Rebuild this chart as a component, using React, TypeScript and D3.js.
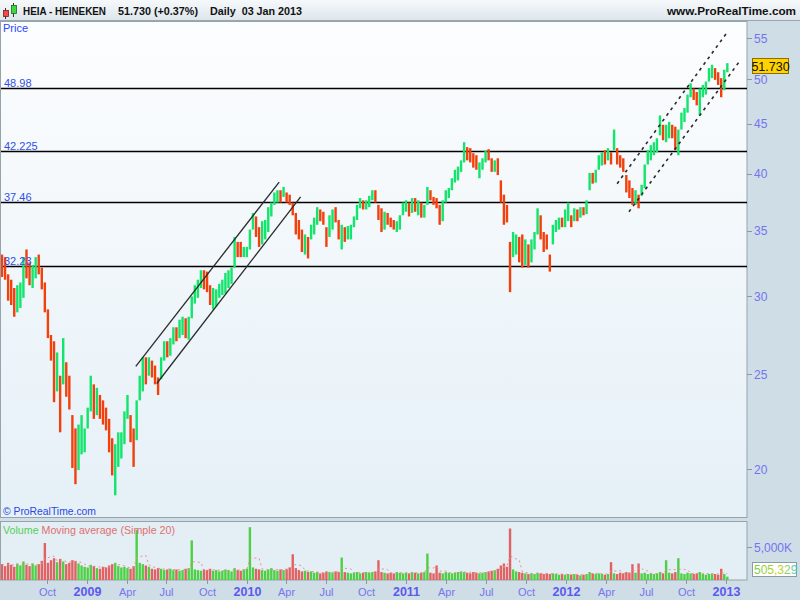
import React from 'react';
import * as d3 from 'd3';

// Weekly bars (week ending dates start at 2008-06-20, one per week)
const firstWeek = new Date(2008, 5, 20);
const firstOpen = 33.0;

const weekHigh = [
  33.1, 32.9, 31.6, 31.2, 30.6, 30.8, 31.0, 32.9, 33.5, 32.5,
  32.3, 32.9, 33.1, 32.1, 31.0, 29.1, 27.4, 27.0, 26.3, 24.9,
  27.2, 25.7, 24.9, 22.7, 22.0, 22.2, 22.7, 22.0, 23.1, 24.9,
  24.4, 24.2, 23.8, 23.5, 23.1, 22.5, 21.5, 21.2, 21.8, 21.8,
  22.9, 23.8, 22.7, 22.0, 23.5, 24.9, 26.0, 26.0, 26.0, 25.8,
  25.5, 24.8, 26.0, 27.0, 27.0, 27.2, 27.9, 27.9, 28.4, 28.6,
  28.5, 28.6, 30.0, 30.8, 31.2, 31.9, 31.9, 31.8, 30.8, 30.6,
  30.5, 30.9, 31.2, 31.7, 31.9, 32.1, 34.5, 34.1, 34.1, 33.7,
  33.7, 35.1, 36.5, 36.2, 35.3, 35.8, 35.9, 37.0, 37.4, 38.3,
  38.5, 38.5, 38.8, 38.3, 38.1, 37.4, 36.5, 35.9, 35.1, 34.7,
  34.5, 35.5, 36.1, 37.0, 36.8, 36.6, 35.3, 36.3, 36.8, 37.0,
  35.9, 35.5, 35.3, 35.4, 35.5, 36.2, 37.2, 37.8, 37.6, 37.6,
  38.0, 38.5, 38.5, 37.2, 36.9, 36.6, 36.5, 36.1, 35.9, 35.8,
  36.3, 37.4, 37.6, 37.4, 37.8, 37.8, 37.6, 37.4, 37.2, 38.8,
  38.5, 37.9, 37.8, 37.2, 37.6, 38.5, 38.7, 39.6, 40.4, 40.7,
  41.3, 43.1, 42.6, 42.5, 42.0, 41.8, 41.1, 41.5, 42.3, 42.4,
  41.5, 41.3, 41.5, 39.4, 38.1, 37.2, 34.1, 34.9, 34.7, 34.5,
  34.7, 34.3, 33.9, 34.3, 34.9, 36.9, 36.3, 34.9, 34.7, 33.1,
  35.5, 35.9, 36.1, 36.1, 36.8, 37.4, 36.3, 36.9, 36.8, 37.0,
  37.0, 37.6, 40.1, 40.1, 40.4, 41.8, 42.1, 42.3, 42.5, 42.1,
  44.4, 42.5, 41.8, 41.5, 39.9, 39.4, 38.7, 38.5, 38.1, 39.0,
  40.9, 42.3, 42.8, 43.1, 43.5, 45.9, 44.9, 44.9, 45.2, 44.9,
  44.7, 44.4, 46.2, 46.7, 48.2, 49.5, 48.9, 48.5, 48.9, 49.3,
  49.7, 51.3, 51.7, 51.3, 50.8, 50.1, 51.1, 51.9,
];

const weekLow = [
  31.4, 31.2, 29.7, 29.4, 28.6, 28.9, 29.2, 29.9, 31.3, 30.8,
  30.6, 31.3, 31.6, 30.5, 28.9, 27.2, 25.8, 23.4, 24.0, 21.8,
  24.4, 23.7, 23.0, 20.05, 19.3, 19.95, 20.7, 20.8, 22.0, 22.9,
  22.5, 22.7, 22.5, 22.2, 21.9, 20.8, 19.7, 18.8, 20.1, 20.5,
  21.2, 22.5, 21.3, 20.1, 21.4, 23.5, 24.0, 24.4, 24.9, 24.8,
  24.4, 23.8, 24.7, 25.8, 26.0, 26.1, 26.8, 27.0, 27.2, 27.4,
  27.2, 27.1, 28.5, 29.5, 29.9, 30.6, 30.5, 30.3, 29.4, 29.1,
  29.3, 29.9, 30.1, 30.2, 30.6, 30.9, 32.1, 32.9, 32.9, 32.9,
  32.9, 33.5, 35.1, 34.5, 33.7, 33.9, 34.3, 34.9, 36.2, 37.2,
  37.4, 37.4, 37.9, 37.4, 37.2, 36.3, 34.7, 34.3, 33.3, 33.1,
  32.8, 34.3, 34.7, 35.5, 35.8, 35.5, 33.7, 34.5, 35.1, 35.7,
  34.3, 33.5, 34.1, 34.3, 34.3, 35.3, 35.9, 36.9, 36.8, 36.8,
  37.0, 37.6, 37.4, 35.9, 34.9, 35.1, 35.5, 35.3, 35.1, 34.9,
  35.1, 36.3, 36.6, 36.2, 36.5, 36.6, 36.3, 36.1, 36.1, 37.2,
  37.6, 37.2, 36.9, 35.5, 35.8, 37.4, 37.8, 38.5, 39.2, 39.4,
  40.2, 41.1, 41.3, 41.1, 40.6, 40.4, 39.6, 40.4, 41.1, 41.3,
  40.2, 40.2, 39.9, 37.4, 35.5, 35.7, 30.3, 32.9, 33.1, 32.5,
  32.1, 32.3, 32.1, 32.5, 33.5, 34.7, 34.3, 33.3, 33.5, 31.8,
  33.9, 34.9, 35.1, 35.3, 35.3, 35.8, 35.3, 35.8, 35.8, 36.1,
  36.3, 36.4, 38.5, 39.1, 39.2, 40.4, 40.8, 40.9, 41.3, 40.9,
  42.3, 40.9, 40.6, 40.2, 38.3, 37.8, 37.2, 37.2, 36.9, 38.0,
  38.7, 40.9, 41.3, 41.8, 42.1, 43.8, 43.3, 43.1, 43.5, 43.5,
  42.3, 41.8, 44.4, 45.2, 46.2, 47.9, 47.6, 47.0, 45.9, 47.9,
  48.2, 49.7, 50.1, 49.9, 49.3, 47.9, 48.7, 50.8,
];

const weekClose = [
  32.5, 31.6, 30.3, 29.9, 29.4, 29.7, 30.5, 32.3, 32.1, 31.3,
  31.9, 32.5, 31.9, 30.8, 29.2, 27.7, 26.1, 24.7, 24.9, 22.4,
  25.5, 24.4, 23.2, 21.2, 20.7, 21.4, 21.4, 21.9, 22.9, 23.8,
  23.5, 23.8, 23.0, 22.7, 22.2, 21.2, 20.4, 20.7, 21.2, 21.4,
  22.5, 22.7, 21.7, 21.4, 23.2, 24.7, 25.5, 25.2, 25.7, 25.2,
  24.8, 24.7, 25.7, 26.5, 26.3, 27.1, 27.4, 27.2, 28.1, 28.1,
  27.7, 28.4, 29.7, 30.5, 30.8, 31.6, 31.2, 30.5, 29.7, 30.1,
  30.3, 30.6, 30.9, 31.3, 31.6, 31.9, 33.9, 33.5, 33.3, 33.5,
  33.6, 34.9, 35.8, 35.3, 34.5, 35.1, 35.5, 36.6, 37.2, 37.9,
  38.1, 37.8, 38.3, 37.9, 37.4, 36.6, 35.1, 34.7, 33.9, 34.3,
  33.5, 35.3, 35.8, 36.6, 36.3, 35.8, 34.7, 35.9, 36.3, 35.9,
  34.7, 34.9, 34.7, 35.1, 35.3, 35.9, 36.9, 37.4, 37.2, 37.4,
  37.8, 38.1, 37.6, 36.3, 35.5, 35.9, 35.8, 35.5, 35.3, 35.5,
  36.2, 37.0, 37.2, 36.8, 37.2, 36.9, 37.2, 36.6, 37.0, 38.3,
  37.8, 37.6, 37.2, 36.3, 37.4, 38.3, 38.5, 39.4, 39.9, 40.4,
  41.1, 42.3, 42.1, 41.5, 41.0, 40.6, 40.9, 41.1, 41.8, 41.5,
  40.9, 41.1, 40.2, 38.1, 36.8, 36.1, 33.1, 33.9, 34.3, 33.5,
  32.7, 33.7, 33.1, 33.9, 34.5, 35.5, 34.9, 34.3, 33.9, 32.5,
  34.9, 35.3, 35.8, 35.5, 36.3, 36.9, 35.9, 36.6, 36.3, 36.8,
  36.6, 37.4, 39.6, 39.4, 40.2, 41.3, 41.8, 41.3, 42.1, 41.5,
  42.8, 41.8, 41.3, 40.4, 39.0, 38.3, 37.6, 38.1, 37.6, 38.7,
  40.4, 41.8, 42.3, 42.8, 43.3, 45.4, 43.8, 44.4, 44.6, 43.8,
  42.8, 43.8, 45.6, 46.2, 47.8, 48.9, 48.2, 47.8, 48.5, 48.7,
  49.3, 50.8, 51.1, 50.1, 49.7, 49.3, 50.5, 51.73,
];

// Volume in thousands of shares
const weekVolume = [
  2400, 2100, 2600, 2300, 2000, 2500, 2200, 2800, 2300, 2100,
  2500, 2200, 2400, 2900, 5600, 2600, 3000, 3300, 2700, 3200,
  2800, 2400, 2600, 3000, 2900, 2500, 2200, 2000, 1900, 2300,
  2100, 1800, 1700, 2000, 1900, 2200, 2400, 2600, 2100, 1900,
  2000, 1800, 1700, 2100, 7600, 2600, 2400, 2200, 2000, 1700,
  1600, 1800, 1700, 1500, 1600, 1700, 1500, 1600, 1400, 1500,
  1700, 1800, 6000, 1600, 1500, 1400, 1600, 1500, 1700, 1400,
  1500, 1300, 1400, 1600, 1500, 1300, 1800, 1500, 1400, 1600,
  1700, 8000, 1900, 1700, 1600, 1500, 1400, 1600, 1800, 1500,
  1400, 1600, 1500, 1700, 1900, 3900, 1800, 1500, 1300, 1400,
  1200, 1300, 1100, 1200, 1000, 1100, 1300, 1200, 1100, 1300,
  1200, 3400, 1200, 1100, 1000, 1100, 1200, 1000, 1100, 1200,
  1100, 1200, 1300, 3000, 1200, 1100, 1000, 1100, 1000, 1200,
  1100, 1000, 1100, 1000, 1200, 1100, 1000, 1100, 1200, 4000,
  1100, 1000, 2200, 1100, 1000, 1200, 1100, 1000, 1100, 1200,
  1300, 1200, 1100, 1000, 1200, 1100, 1000, 1100, 1200, 1300,
  1400, 1500, 1700, 2200, 2500, 2000, 7800, 1600, 1300, 1200,
  1100, 1000, 900, 1000, 900, 1100, 1000, 900, 1000, 900,
  1000, 900, 800, 900, 800, 900, 800, 900, 800, 700,
  800, 900, 1200, 1000, 900, 1000, 900, 800, 900, 2700,
  1000, 900, 1100, 1000, 1200, 1100, 2400, 1100, 2500, 1000,
  1100, 900, 1000, 900, 1000, 1200, 1000, 3000, 1100, 1000,
  1200, 3300, 1000, 900, 1100, 1000, 900, 1000, 1200, 900,
  800, 900, 1000, 900, 800, 1700, 900, 505,
];

const priceTicks = [20, 25, 30, 35, 40, 45, 50, 55];
const levelValues = [48.98, 42.225, 37.46, 32.23];
const levelLabels = ['48.98', '42.225', '37.46', '32.23'];
const volumeTicks = [5000];
const volumeTickLabels = ['5,000K'];

const solidChannel = [
  { from: { date: new Date(2009, 3, 22), price: 25.45 }, to: { date: new Date(2010, 2, 16), price: 39.25 } },
  { from: { date: new Date(2009, 5, 9), price: 24.45 }, to: { date: new Date(2010, 4, 4), price: 37.9 } },
];
const dashedChannel = [
  { from: { date: new Date(2012, 3, 27), price: 39.1 }, to: { date: new Date(2013, 0, 5), price: 55.9 } },
  { from: { date: new Date(2012, 4, 24), price: 36.6 }, to: { date: new Date(2013, 1, 2), price: 52.2 } },
];

const lastPriceLabel = '51.730';
const lastVolumeLabel = '505,329';

const FONT = 'Liberation Sans, Arial, Helvetica, sans-serif';
const UP = '#12e46c';
const DOWN = '#f2400c';
const VUP = '#4fcf45';
const VDOWN = '#e06262';

export default function App() {
  const plotRight = 747;
  const priceTop = 21;
  const priceBottom = 518;
  const volTop = 521;
  const volBottom = 580;

  const x = d3.scaleTime()
    .domain([new Date(2008, 5, 20), new Date(2013, 1, 18)])
    .range([2, plotRight]);
  const y = d3.scaleLog().domain([20, 50]).range([469, 79]);
  const yv = d3.scaleLinear().domain([0, 5000]).range([volBottom, 547]);

  const bars = weekClose.map((c, i) => {
    const open = i === 0 ? firstOpen : weekClose[i - 1];
    return {
      date: d3.timeDay.offset(firstWeek, 7 * i),
      high: weekHigh[i],
      low: weekLow[i],
      open,
      close: c,
      volume: weekVolume[i],
      up: c >= open,
    };
  });

  const ma = bars.map((b, i) => {
    const from = Math.max(0, i - 3);
    const slice = weekVolume.slice(from, i + 1);
    return { date: b.date, v: d3.mean(slice) as number };
  });
  const maLine = d3.line<{ date: Date; v: number }>()
    .x((d) => x(d.date))
    .y((d) => yv(d.v));

  const quarterTicks = d3.timeMonth.every(3)!.range(new Date(2008, 9, 1), new Date(2013, 1, 2));
  const monthFmt = d3.timeFormat('%b');

  const bw = 2.4;

  return (
    <div style={{ position: 'fixed', left: 0, top: 0, width: 800, height: 600 }}>
      <svg width={800} height={600} style={{ display: 'block' }} fontFamily={FONT}>
        <defs>
          <linearGradient id="hdr" x1="0" y1="0" x2="0" y2="1">
            <stop offset="0" stopColor="#f6f9fb" />
            <stop offset="1" stopColor="#dde6ec" />
          </linearGradient>
          <linearGradient id="pricebg" x1="0" y1="0" x2="0" y2="1">
            <stop offset="0" stopColor="#fcfdfe" />
            <stop offset="1" stopColor="#e5f0f7" />
          </linearGradient>
          <linearGradient id="voltext" x1="0" y1="0" x2="1" y2="0">
            <stop offset="0" stopColor="#6fd04a" />
            <stop offset="0.6" stopColor="#c6cf2a" />
            <stop offset="1" stopColor="#3fd0c8" />
          </linearGradient>
          <clipPath id="priceClip">
            <rect x={1} y={priceTop} width={plotRight - 1} height={priceBottom - priceTop} />
          </clipPath>
          <clipPath id="volClip">
            <rect x={1} y={volTop} width={plotRight - 1} height={volBottom - volTop} />
          </clipPath>
        </defs>

        {/* background */}
        <rect x={0} y={0} width={800} height={600} fill="#cedde6" />

        {/* header */}
        <rect x={0} y={0} width={800} height={20} fill="url(#hdr)" />
        <line x1={0} x2={800} y1={20.5} y2={20.5} stroke="#9aa7af" />
        <g>
          <line x1={5.5} x2={5.5} y1={8} y2={19} stroke="#333" />
          <rect x={3.5} y={10.5} width={5} height={6} fill="#ef4a4a" stroke="#7a1d1d" strokeWidth={0.8} />
          <line x1={13.5} x2={13.5} y1={3} y2={17} stroke="#333" />
          <rect x={11.5} y={5.5} width={5} height={8} fill="#3ed83e" stroke="#1d6a1d" strokeWidth={0.8} />
        </g>
        <text x={23} y={15} fontSize={11.5} fontWeight="bold" fill="#111" textLength={83} lengthAdjust="spacingAndGlyphs">HEIA - HEINEKEN</text>
        <text x={118} y={15} fontSize={11.5} fontWeight="bold" fill="#111" textLength={80} lengthAdjust="spacingAndGlyphs">51.730 (+0.37%)</text>
        <text x={210} y={15} fontSize={11.5} fontWeight="bold" fill="#111" xmlSpace="preserve" textLength={92} lengthAdjust="spacingAndGlyphs">Daily  03 Jan 2013</text>
        <text x={667} y={15} fontSize={11.5} fontWeight="bold" fill="#111" textLength={129} lengthAdjust="spacingAndGlyphs">www.ProRealTime.com</text>

        {/* price panel */}
        <rect x={0.5} y={priceTop + 0.5} width={plotRight - 0.5} height={priceBottom - priceTop - 1} fill="url(#pricebg)" stroke="#96a3ab" />

        <g clipPath="url(#priceClip)">
          {levelValues.map((v) => (
            <line key={v} x1={0} x2={plotRight} y1={Math.round(y(v)) + 0.5} y2={Math.round(y(v)) + 0.5} stroke="#000" strokeWidth={1.3} />
          ))}
          {bars.map((b, i) => (
            <rect
              key={i}
              x={x(b.date) - bw / 2}
              y={y(b.high)}
              width={bw}
              height={Math.max(1, y(b.low) - y(b.high))}
              fill={b.up ? UP : DOWN}
            />
          ))}
          {solidChannel.map((c, i) => (
            <line key={'s' + i} x1={x(c.from.date)} y1={y(c.from.price)} x2={x(c.to.date)} y2={y(c.to.price)} stroke="#2a2a2a" strokeWidth={1.3} />
          ))}
          {dashedChannel.map((c, i) => (
            <line key={'d' + i} x1={x(c.from.date)} y1={y(c.from.price)} x2={x(c.to.date)} y2={y(c.to.price)} stroke="#2a2a2a" strokeWidth={1.6} strokeDasharray="3,4" />
          ))}
        </g>
        {levelValues.map((v, i) => (
          <text key={'l' + v} x={4} y={Math.round(y(v)) - 1} fontSize={11} fill="#2f4fe6">{levelLabels[i]}</text>
        ))}
        <text x={3} y={32} fontSize={11} fill="#2a46ff">Price</text>
        <text x={3} y={515} fontSize={10.5} fill="#2a46e6" textLength={93} lengthAdjust="spacingAndGlyphs">© ProRealTime.com</text>

        {/* price axis */}
        {priceTicks.map((t) => (
          <g key={'pt' + t}>
            <line x1={plotRight} x2={plotRight + 5} y1={Math.round(y(t)) + 0.5} y2={Math.round(y(t)) + 0.5} stroke="#8a98a2" />
            <text x={plotRight + 7} y={y(t) + 4.5} fontSize={12} fill="#7474ee">{t}</text>
          </g>
        ))}
        <rect x={752.5} y={58.5} width={36} height={15} fill="#ffd200" stroke="#8a7000" />
        <text x={770.5} y={70.5} fontSize={12.5} fill="#111" textAnchor="middle">{lastPriceLabel}</text>

        {/* volume panel */}
        <rect x={0.5} y={volTop + 0.5} width={plotRight - 0.5} height={volBottom - volTop - 0.5} fill="#e3eef5" stroke="#96a3ab" />
        <g clipPath="url(#volClip)">
          {bars.map((b, i) => (
            <rect
              key={'v' + i}
              x={x(b.date) - bw / 2}
              y={yv(b.volume)}
              width={bw}
              height={volBottom - yv(b.volume)}
              fill={b.up ? VUP : VDOWN}
            />
          ))}
          <path d={maLine(ma) || ''} fill="none" stroke="#f08c8c" strokeWidth={1} strokeDasharray="2,3" />
        </g>
        <text x={3} y={534} fontSize={11} textLength={172} lengthAdjust="spacingAndGlyphs">
          <tspan fill="#55d055">Volume </tspan>
          <tspan fill="#e07070">Moving average (Simple 20)</tspan>
        </text>
        {volumeTicks.map((t, i) => (
          <g key={'vt' + t}>
            <line x1={plotRight} x2={plotRight + 5} y1={Math.round(yv(t)) + 0.5} y2={Math.round(yv(t)) + 0.5} stroke="#8a98a2" />
            <text x={plotRight + 7} y={yv(t) + 4.5} fontSize={12} fill="#7474ee">{volumeTickLabels[i]}</text>
          </g>
        ))}
        <rect x={752.5} y={562.5} width={44} height={14} fill="#ffffff" stroke="#8c9aa3" />
        <text x={754} y={574} fontSize={12} fill="url(#voltext)">{lastVolumeLabel}</text>

        {/* time axis */}
        {quarterTicks.map((d, i) => {
          const isYear = d.getMonth() === 0;
          const xx = Math.round(x(d)) + 0.5;
          return (
            <g key={'qt' + i}>
              <line x1={xx} x2={xx} y1={volBottom} y2={volBottom + 4} stroke="#8a98a2" />
              <text
                x={xx}
                y={596}
                fontSize={isYear ? 12.5 : 11}
                fontWeight={isYear ? 'bold' : 'normal'}
                fill={isYear ? '#5a5af0' : '#7676ee'}
                textAnchor="middle"
              >
                {isYear ? d.getFullYear() : monthFmt(d)}
              </text>
            </g>
          );
        })}
      </svg>
    </div>
  );
}
